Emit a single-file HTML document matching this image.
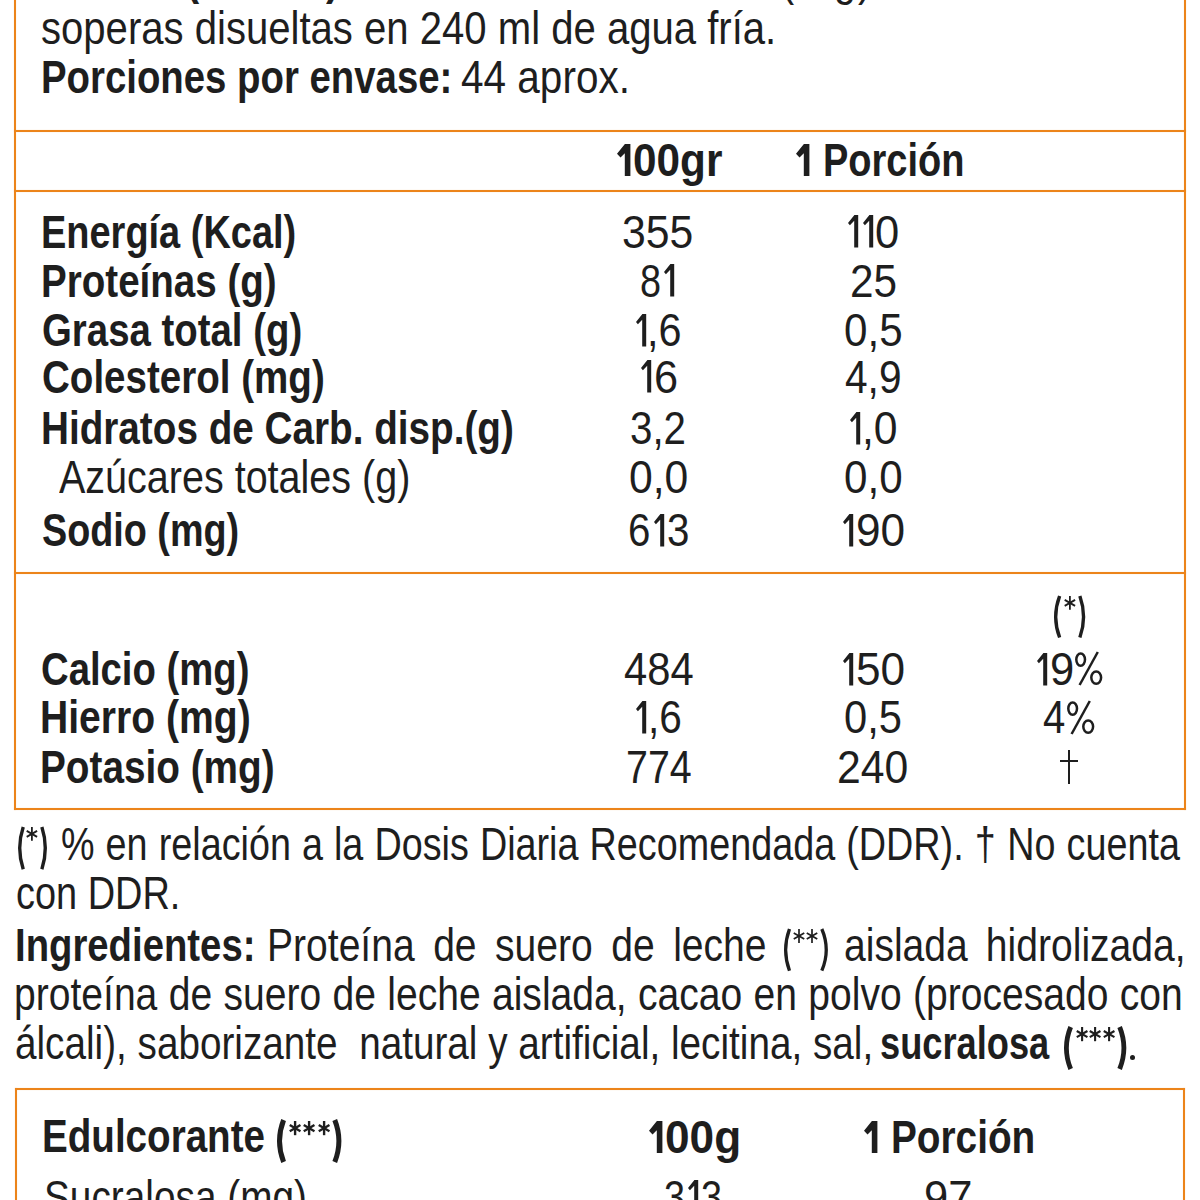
<!DOCTYPE html>
<html><head><meta charset="utf-8"><style>
html,body{margin:0;padding:0;background:#fff;width:1200px;height:1200px;overflow:hidden;position:relative}
.t{position:absolute;font-family:"Liberation Sans",sans-serif;font-size:46.5px;line-height:46.5px;white-space:pre;color:#1E1E1E;transform-origin:0 0}
.b{font-weight:700}
.j{text-align:justify;text-align-last:justify;white-space:normal}
.ln{position:absolute;background:#EC841A;box-shadow:0 0 1px rgba(236,132,26,.45)}
.g1{position:absolute;fill:#1E1E1E}
.st{position:absolute;stroke:#1E1E1E}
.pc{position:absolute;stroke:#1E1E1E;fill:none;overflow:visible}
.pr{position:absolute;stroke:#1E1E1E;fill:none;overflow:visible}
</style></head><body>
<div class="ln" style="left:14px;top:0px;width:2px;height:810px"></div>
<div class="ln" style="left:1184px;top:0px;width:2px;height:810px"></div>
<div class="ln" style="left:14px;top:130px;width:1172px;height:2px"></div>
<div class="ln" style="left:14px;top:190px;width:1172px;height:2px"></div>
<div class="ln" style="left:14px;top:572px;width:1172px;height:2px"></div>
<div class="ln" style="left:14px;top:808px;width:1172px;height:2px"></div>
<div class="ln" style="left:15px;top:1088px;width:1170px;height:2px"></div>
<div class="ln" style="left:15px;top:1088px;width:2px;height:112px"></div>
<div class="ln" style="left:1183px;top:1088px;width:2px;height:112px"></div>
<div class="t" style="left:41.24px;top:4.75px;transform:scaleX(0.8619)">soperas disueltas en 240 ml de agua fría.</div>
<div class="t b" style="left:40.83px;top:54.3px;transform:scaleX(0.8248)">Porciones por envase:</div>
<div class="t" style="left:461.43px;top:54.3px;transform:scaleX(0.8714)">44 aprox.</div>
<svg class="g1" style="left:616.7px;top:143.7px" width="14.4" height="33"><polygon points="7.9,0 13.4,0 13.4,32 7.8,32 7.8,9.2 3.5,13.6 0,9.8"/></svg>
<div class="t b" style="left:632.78px;top:136.7px;transform:scaleX(0.9104)">00gr</div>
<svg class="g1" style="left:795.8px;top:143.8px" width="14.4" height="33"><polygon points="7.9,0 13.4,0 13.4,32 7.8,32 7.8,9.2 3.5,13.6 0,9.8"/></svg>
<div class="t b" style="left:822.75px;top:136.8px;transform:scaleX(0.8174)">Porción</div>
<div class="t b" style="left:40.85px;top:208.5px;transform:scaleX(0.8162)">Energía (Kcal)</div>
<div class="t b" style="left:40.81px;top:257.7px;transform:scaleX(0.8294)">Proteínas (g)</div>
<div class="t b" style="left:41.65px;top:307.25px;transform:scaleX(0.8254)">Grasa total (g)</div>
<div class="t b" style="left:41.64px;top:353.5px;transform:scaleX(0.8291)">Colesterol (mg)</div>
<div class="t b" style="left:40.8px;top:405px;transform:scaleX(0.8318)">Hidratos de Carb. disp.(g)</div>
<div class="t" style="left:59px;top:454px;transform:scaleX(0.8496)">Azúcares totales (g)</div>
<div class="t b" style="left:42.49px;top:507px;transform:scaleX(0.8121)">Sodio (mg)</div>
<div class="t" style="left:622.16px;top:208.5px;transform:scaleX(0.9189)">355</div>
<div class="t" style="left:640.37px;top:257.7px;transform:scaleX(0.8136)">8</div>
<svg class="g1" style="left:664.4px;top:264.2px" width="11.2" height="33.5"><polygon points="6.4,0 10.2,0 10.2,32.5 6.2,32.5 6.2,5.7 1.9,10.2 0,8"/></svg>
<svg class="g1" style="left:635.8px;top:313.75px" width="11.2" height="33.5"><polygon points="6.4,0 10.2,0 10.2,32.5 6.2,32.5 6.2,5.7 1.9,10.2 0,8"/></svg>
<div class="t" style="left:647.44px;top:307.25px;transform:scaleX(0.8909)">,6</div>
<svg class="g1" style="left:640.8px;top:360px" width="11.2" height="33.5"><polygon points="6.4,0 10.2,0 10.2,32.5 6.2,32.5 6.2,5.7 1.9,10.2 0,8"/></svg>
<div class="t" style="left:653.64px;top:353.5px;transform:scaleX(0.9318)">6</div>
<div class="t" style="left:630.27px;top:405px;transform:scaleX(0.8667)">3,2</div>
<div class="t" style="left:628.86px;top:454px;transform:scaleX(0.9180)">0,0</div>
<div class="t" style="left:628.27px;top:507px;transform:scaleX(0.8659)">6</div>
<svg class="g1" style="left:653.55px;top:513.5px" width="11.2" height="33.5"><polygon points="6.4,0 10.2,0 10.2,32.5 6.2,32.5 6.2,5.7 1.9,10.2 0,8"/></svg>
<div class="t" style="left:666.52px;top:507px;transform:scaleX(0.8659)">3</div>
<svg class="g1" style="left:847.9px;top:215px" width="11.2" height="33.5"><polygon points="6.4,0 10.2,0 10.2,32.5 6.2,32.5 6.2,5.7 1.9,10.2 0,8"/></svg>
<svg class="g1" style="left:862.6px;top:215px" width="11.2" height="33.5"><polygon points="6.4,0 10.2,0 10.2,32.5 6.2,32.5 6.2,5.7 1.9,10.2 0,8"/></svg>
<div class="t" style="left:875.43px;top:208.5px;transform:scaleX(0.9364)">0</div>
<div class="t" style="left:849.88px;top:257.7px;transform:scaleX(0.9104)">25</div>
<div class="t" style="left:844.19px;top:307.25px;transform:scaleX(0.9066)">0,5</div>
<div class="t" style="left:845.13px;top:353.5px;transform:scaleX(0.8742)">4,9</div>
<svg class="g1" style="left:850.3px;top:411.5px" width="11.2" height="33.5"><polygon points="6.4,0 10.2,0 10.2,32.5 6.2,32.5 6.2,5.7 1.9,10.2 0,8"/></svg>
<div class="t" style="left:861.83px;top:405px;transform:scaleX(0.9182)">,0</div>
<div class="t" style="left:844.19px;top:454px;transform:scaleX(0.9066)">0,0</div>
<svg class="g1" style="left:842.95px;top:513.5px" width="11.2" height="33.5"><polygon points="6.4,0 10.2,0 10.2,32.5 6.2,32.5 6.2,5.7 1.9,10.2 0,8"/></svg>
<div class="t" style="left:855.75px;top:507px;transform:scaleX(0.9500)">90</div>
<div class="t b" style="left:40.85px;top:646px;transform:scaleX(0.8233)">Calcio (mg)</div>
<div class="t b" style="left:39.98px;top:694px;transform:scaleX(0.8408)">Hierro (mg)</div>
<div class="t b" style="left:40px;top:743.7px;transform:scaleX(0.8333)">Potasio (mg)</div>
<div class="t" style="left:623.8px;top:646px;transform:scaleX(0.8973)">484</div>
<svg class="g1" style="left:636px;top:700.8px" width="11.2" height="33.5"><polygon points="6.4,0 10.2,0 10.2,32.5 6.2,32.5 6.2,5.7 1.9,10.2 0,8"/></svg>
<div class="t" style="left:647.71px;top:694.3px;transform:scaleX(0.8727)">,6</div>
<div class="t" style="left:625.61px;top:743.7px;transform:scaleX(0.8473)">774</div>
<svg class="g1" style="left:842.85px;top:652.5px" width="11.2" height="33.5"><polygon points="6.4,0 10.2,0 10.2,32.5 6.2,32.5 6.2,5.7 1.9,10.2 0,8"/></svg>
<div class="t" style="left:855.65px;top:646px;transform:scaleX(0.9500)">50</div>
<div class="t" style="left:844.21px;top:694.3px;transform:scaleX(0.8967)">0,5</div>
<div class="t" style="left:837.46px;top:743.7px;transform:scaleX(0.9189)">240</div>
<svg class="g1" style="left:1036.7px;top:652.8px" width="11.2" height="33.5"><polygon points="6.4,0 10.2,0 10.2,32.5 6.2,32.5 6.2,5.7 1.9,10.2 0,8"/></svg>
<div class="t" style="left:1049.53px;top:646.3px;transform:scaleX(0.9364)">9</div>
<div class="t" style="left:1043.14px;top:694px;transform:scaleX(0.8625)">4</div>
<div class="t" style="left:16.37px;top:870px;transform:scaleX(0.8153)">con DDR.</div>
<div class="t b" style="left:14.53px;top:921.8px;transform:scaleX(0.8235)">Ingredientes:</div>
<div class="t" style="left:15.34px;top:1019.6px;transform:scaleX(0.8322)">álcali), saborizante  natural y artificial, lecitina, sal,</div>
<div class="t b" style="left:880.14px;top:1019.6px;transform:scaleX(0.7792)">sucralosa</div>
<div class="t b" style="left:42.21px;top:1113px;transform:scaleX(0.8299)">Edulcorante</div>
<svg class="g1" style="left:648.77px;top:1121px" width="14.4" height="33"><polygon points="7.9,0 13.4,0 13.4,32 7.8,32 7.8,9.2 3.5,13.6 0,9.8"/></svg>
<div class="t b" style="left:664.77px;top:1114px;transform:scaleX(0.9500)">00g</div>
<svg class="g1" style="left:863.9px;top:1121px" width="14.4" height="33"><polygon points="7.9,0 13.4,0 13.4,32 7.8,32 7.8,9.2 3.5,13.6 0,9.8"/></svg>
<div class="t b" style="left:890.8px;top:1114px;transform:scaleX(0.8335)">Porción</div>
<div class="t" style="left:664.17px;top:1173.5px;transform:scaleX(0.8136)">3</div>
<svg class="g1" style="left:688.2px;top:1180px" width="11.2" height="33.5"><polygon points="6.4,0 10.2,0 10.2,32.5 6.2,32.5 6.2,5.7 1.9,10.2 0,8"/></svg>
<div class="t" style="left:701.27px;top:1173.5px;transform:scaleX(0.8136)">3</div>
<div class="t" style="left:924.13px;top:1173.5px;transform:scaleX(0.9362)">97</div>
<div class="t" style="left:43.63px;top:1173.5px;transform:scaleX(0.8341)">Sucralosa (mg)</div>
<div class="t j" style="left:60.88px;top:820.5px;width:1378.04px;transform:scaleX(0.8120)">% en relación a la Dosis Diaria Recomendada (DDR). † No cuenta</div>
<div class="t j" style="left:266.64px;top:921.7px;width:594.68px;transform:scaleX(0.8400)">Proteína de suero de leche</div>
<div class="t j" style="left:844.32px;top:921.7px;width:406.69px;transform:scaleX(0.8400)">aislada hidrolizada,</div>
<div class="t j" style="left:14.48px;top:971px;width:1391.32px;transform:scaleX(0.8400)">proteína de suero de leche aislada, cacao en polvo (procesado con</div>
<div class="t b" style="left:186.3px;top:-45.3px;transform:scaleX(0.85)">(</div>
<div class="t b" style="left:325.5px;top:-45.3px;transform:scaleX(0.85)">)</div>
<div class="t" style="left:781.45px;top:-44.5px;transform:scaleX(0.85)">(</div>
<div class="t" style="left:834.3px;top:-44.5px;transform:scaleX(0.85)">g</div>
<div class="t" style="left:858.15px;top:-44.5px;transform:scaleX(0.85)">)</div>
<svg class="pr" style="left:1054px;top:596px" width="9.5" height="41.5" stroke-width="3.4"><path d="M5.63,0 Q-2.23,20.75 5.63,41.5"/></svg>
<svg class="pr" style="left:1077.5px;top:596px" width="9.25" height="41.5" stroke-width="3.4"><path d="M1.87,0 Q9.23,20.75 1.87,41.5"/></svg>
<svg class="pr" style="left:17.9px;top:827px" width="9.1" height="42.2" stroke-width="3.4"><path d="M5.23,0 Q-1.83,21.1 5.23,42.2"/></svg>
<svg class="pr" style="left:40px;top:827px" width="9" height="42.2" stroke-width="3.4"><path d="M1.87,0 Q8.73,21.1 1.87,42.2"/></svg>
<svg class="pr" style="left:1064px;top:1026.7px" width="11.3" height="42" stroke-width="4.8"><path d="M6.66,0 Q-1.86,21 6.66,42"/></svg>
<svg class="pr" style="left:1117px;top:1026.7px" width="11.3" height="42" stroke-width="4.8"><path d="M2.64,0 Q11.16,21 2.64,42"/></svg>
<svg class="pr" style="left:277.25px;top:1120.1px" width="11.35" height="42" stroke-width="5"><path d="M6.6,0 Q-1.6,21 6.6,42"/></svg>
<svg class="pr" style="left:784px;top:928.5px" width="9.3" height="41.7" stroke-width="3.3"><path d="M5.48,0 Q-2.18,20.85 5.48,41.7"/></svg>
<svg class="pr" style="left:819.9px;top:928.5px" width="9.9" height="41.7" stroke-width="3.3"><path d="M1.81,0 Q10.68,20.85 1.81,41.7"/></svg>
<svg class="pr" style="left:331.6px;top:1120.1px" width="11.4" height="42" stroke-width="5"><path d="M2.75,0 Q11.05,21 2.75,42"/></svg>
<div style="position:absolute;left:1067.6px;top:750.4px;width:2.9px;height:34px;background:#1E1E1E"></div><div style="position:absolute;left:1060.4px;top:760px;width:17.4px;height:2.4px;background:#1E1E1E"></div>
<svg class="pc" style="left:1074.7px;top:652.4px" width="28" height="34" stroke-width="2.5"><ellipse cx="5.65" cy="7.6" rx="4.35" ry="6.1"/><ellipse cx="21.2" cy="25.6" rx="4.9" ry="6.2"/><line x1="4.6" y1="33" x2="22.8" y2="0"/></svg>
<svg class="pc" style="left:1067.3px;top:700.6px" width="28" height="34" stroke-width="2.5"><ellipse cx="5.65" cy="7.6" rx="4.35" ry="6.1"/><ellipse cx="21.2" cy="25.6" rx="4.9" ry="6.2"/><line x1="4.6" y1="33" x2="22.8" y2="0"/></svg>
<div style="position:absolute;left:1130.1px;top:1054.6px;width:5.2px;height:5.2px;border-radius:50%;background:#1E1E1E"></div>
<svg class="st" style="left:789.6px;top:926.5px" width="18" height="18" stroke-width="1.7"><line x1="9" y1="2" x2="9" y2="16"/><line x1="3.73" y1="5.95" x2="14.27" y2="12.05"/><line x1="3.73" y1="12.04" x2="14.27" y2="5.96"/></svg>
<svg class="st" style="left:803.3px;top:926.5px" width="18" height="18" stroke-width="1.7"><line x1="9" y1="2" x2="9" y2="16"/><line x1="3.73" y1="5.95" x2="14.27" y2="12.05"/><line x1="3.73" y1="12.04" x2="14.27" y2="5.96"/></svg>
<svg class="st" style="left:1060.5px;top:594px" width="17.8" height="17.8" stroke-width="1.8"><line x1="8.9" y1="2" x2="8.9" y2="15.8"/><line x1="3.7" y1="5.9" x2="14.1" y2="11.9"/><line x1="3.7" y1="11.9" x2="14.1" y2="5.9"/></svg>
<svg class="st" style="left:23.4px;top:825px" width="17.8" height="17.8" stroke-width="1.8"><line x1="8.9" y1="2" x2="8.9" y2="15.8"/><line x1="3.7" y1="5.9" x2="14.1" y2="11.9"/><line x1="3.7" y1="11.9" x2="14.1" y2="5.9"/></svg>
<svg class="st" style="left:1072.7px;top:1025px" width="18.2" height="18.2" stroke-width="2.1"><line x1="9.1" y1="2" x2="9.1" y2="16.2"/><line x1="3.75" y1="6.01" x2="14.45" y2="12.19"/><line x1="3.75" y1="12.19" x2="14.45" y2="6.01"/></svg>
<svg class="st" style="left:1086.4px;top:1025px" width="18.2" height="18.2" stroke-width="2.1"><line x1="9.1" y1="2" x2="9.1" y2="16.2"/><line x1="3.75" y1="6.01" x2="14.45" y2="12.19"/><line x1="3.75" y1="12.19" x2="14.45" y2="6.01"/></svg>
<svg class="st" style="left:1100.1px;top:1025px" width="18.2" height="18.2" stroke-width="2.1"><line x1="9.1" y1="2" x2="9.1" y2="16.2"/><line x1="3.75" y1="6.01" x2="14.45" y2="12.19"/><line x1="3.75" y1="12.19" x2="14.45" y2="6.01"/></svg>
<svg class="st" style="left:285.8px;top:1118.5px" width="18.2" height="18.2" stroke-width="2.4"><line x1="9.1" y1="2" x2="9.1" y2="16.2"/><line x1="3.75" y1="6.01" x2="14.45" y2="12.19"/><line x1="3.75" y1="12.19" x2="14.45" y2="6.01"/></svg>
<svg class="st" style="left:300px;top:1118.5px" width="18.2" height="18.2" stroke-width="2.4"><line x1="9.1" y1="2" x2="9.1" y2="16.2"/><line x1="3.75" y1="6.01" x2="14.45" y2="12.19"/><line x1="3.75" y1="12.19" x2="14.45" y2="6.01"/></svg>
<svg class="st" style="left:314.7px;top:1118.5px" width="18.2" height="18.2" stroke-width="2.4"><line x1="9.1" y1="2" x2="9.1" y2="16.2"/><line x1="3.75" y1="6.01" x2="14.45" y2="12.19"/><line x1="3.75" y1="12.19" x2="14.45" y2="6.01"/></svg>
</body></html>
